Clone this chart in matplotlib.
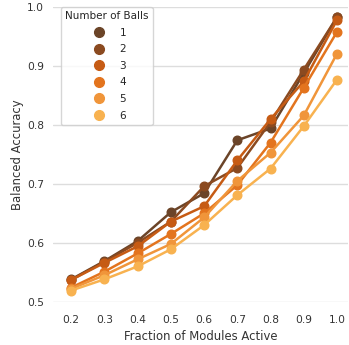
import matplotlib
matplotlib.use("Agg")
import matplotlib.pyplot as plt
import seaborn as sns
from matplotlib.lines import Line2D

# Data
fractions = [0.2, 0.3, 0.4, 0.5, 0.6, 0.7, 0.8, 0.9, 1.0]
balls = ["1", "2", "3", "4", "5", "6"]
acc_1 = [0.538, 0.569, 0.603, 0.652, 0.684, 0.774, 0.794, 0.888, 0.983]
acc_2 = [0.537, 0.568, 0.600, 0.636, 0.696, 0.727, 0.805, 0.894, 0.983]
acc_3 = [0.537, 0.566, 0.594, 0.636, 0.662, 0.740, 0.810, 0.874, 0.978]
acc_4 = [0.524, 0.551, 0.582, 0.615, 0.650, 0.698, 0.770, 0.863, 0.958]
acc_5 = [0.522, 0.545, 0.572, 0.598, 0.643, 0.705, 0.753, 0.816, 0.921]
acc_6 = [0.519, 0.538, 0.560, 0.589, 0.630, 0.681, 0.726, 0.798, 0.877]
series = [acc_1, acc_2, acc_3, acc_4, acc_5, acc_6]
colors = ["#6b4428", "#8b4a20", "#c65b14", "#e3741e", "#f0953a", "#f8b250"]

sns.set_style("whitegrid")
plt.rcParams["font.family"] = ["DejaVu Sans"]

fig = plt.figure(figsize=(3.49, 3.45), dpi=100)
ax = fig.add_axes([0.1527, 0.1255, 0.8444, 0.854])

for vals, col in zip(series, colors):
    ax.plot(fractions, vals, color=col, marker="o", markersize=6.2, linewidth=1.8)

ax.set_xlim(0.146, 1.033)
ax.set_ylim(0.5, 1.0)
ax.set_xticks(fractions)
ax.set_xticklabels([f"{f:.1f}" for f in fractions])
ax.set_yticks([0.5, 0.6, 0.7, 0.8, 0.9, 1.0])
ax.grid(axis="x", visible=False)
ax.grid(axis="y", color="#dddddd", linewidth=1.0)
ax.tick_params(axis="x", labelsize=7.7, colors="#333333", length=0, pad=9.5)
ax.tick_params(axis="y", labelsize=7.7, colors="#333333", length=0, pad=6.5)
ax.set_xlabel("Fraction of Modules Active", fontsize=8.4, color="#333333")
ax.set_ylabel("Balanced Accuracy", fontsize=8.4, color="#333333", labelpad=2)
for s in ax.spines.values():
    s.set_visible(False)

handles = [Line2D([], [], color=c, marker="o", linestyle="none", markersize=7) for c in colors]
leg = ax.legend(handles, balls, title="Number of Balls", loc="upper left",
                bbox_to_anchor=(0.025, 1.0), borderaxespad=0.0,
                fontsize=7.6, title_fontsize=7.5,
                handlelength=2.2, handletextpad=0.9, labelspacing=0.62)

fig.savefig("out.png", dpi=100)
